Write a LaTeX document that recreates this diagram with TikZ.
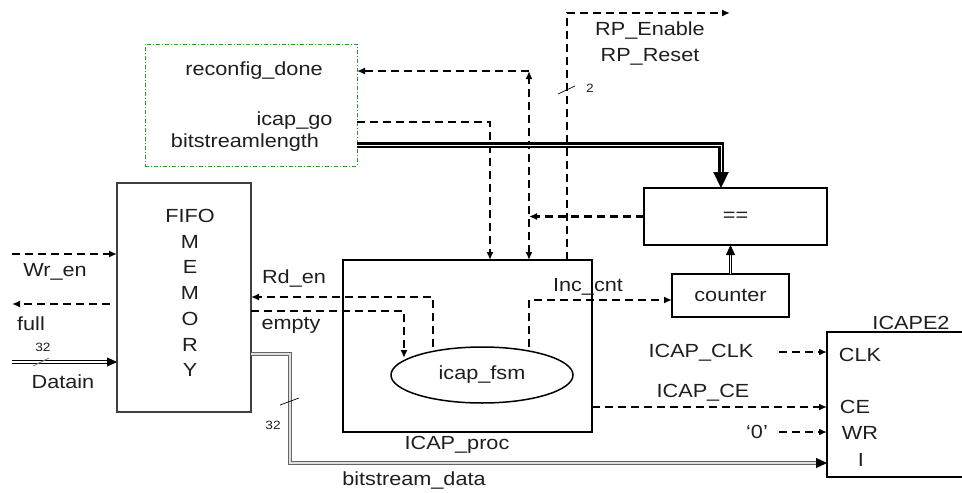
\documentclass[tikz,border=0pt]{standalone}
\usepackage{fontspec}
\setmainfont{Liberation Sans}[FakeStretch=1.14]
\usetikzlibrary{arrows.meta,shapes.geometric}
\definecolor{ink}{RGB}{30,30,30}
\definecolor{hostgreen}{RGB}{40,160,40}
\begin{document}
\begin{tikzpicture}[x=1pt,y=-1pt,
  every node/.style={font=\fontsize{19}{23}\selectfont,text=ink,inner sep=0pt,outer sep=0pt},
  small/.style={font=\fontsize{12}{14}\selectfont},
  blk/.style={draw=black,line width=2pt},
  sig/.style={draw=black,line width=2.2pt,dash pattern=on 8pt off 5pt},
  tipend/.style={-{Latex[length=8pt,width=7pt]}},
  bothends/.style={{Latex[length=8pt,width=7pt]}-{Latex[length=8pt,width=7pt]}},
  bus/.style={draw=black,line width=0.9pt,double=white,double distance=1.6pt,
    -{Triangle[length=10pt,width=9pt]}},
  bigbus/.style={draw=black,line width=2.2pt,double=white,double distance=1pt,
    -{Triangle[length=16pt,width=15pt]}},
  graybus/.style={draw=gray!80!black,line width=1.1pt,double=gray!25,double distance=1.4pt,
    -{Triangle[length=11pt,width=10pt,color=black,fill=black]}},
  slash/.style={draw=black,line width=0.7pt},
]
\useasboundingbox (0,0) rectangle (962,493);
\clip (0,0) rectangle (962,493);

% blocks
\node[draw=hostgreen,line width=1pt,dash pattern=on 4pt off 2pt on 1pt off 2pt,
  minimum width=212pt,minimum height=122pt,anchor=north west] (hostbox) at (145,44) {};
\node[draw=black!75,line width=1.1pt,minimum width=134pt,minimum height=229pt,
  anchor=north west] (fifo) at (117,183) {};
\node[blk,minimum width=249pt,minimum height=172pt,anchor=north west] (icapproc) at (343,260) {};
\node[draw=black,line width=1.5pt,ellipse,minimum width=182pt,minimum height=56pt] (fsm) at (482,375) {icap\_fsm};
\node[blk,minimum width=183pt,minimum height=57pt,anchor=north west] (eqbox) at (644,188) {==};
\node[blk,minimum width=117pt,minimum height=43pt,anchor=north west] (counter) at (672,274) {counter};
\node[blk,minimum width=150pt,minimum height=145pt,anchor=north west] (icape) at (827,332) {};

% labels
\node (lblrc) at (254,71) {reconfig\_done};
\node (lblgo) at (294.5,121) {icap\_go};
\node (lbllen) at (245,143) {bitstreamlength};
\node (lblen) at (650,31) {RP\_Enable};
\node (lblrst) at (650,57) {RP\_Reset};
\node[font=\fontsize{19}{25.7}\selectfont,align=center] (lblfifo) at (190,293) {FIFO\\M\\E\\M\\O\\R\\Y};
\node (lblwr) at (55,272) {Wr\_en};
\node (lblfull) at (31,324) {full};
\node (lbldin) at (63,382) {Datain};
\node[small] (lbl32a) at (43,347) {32};
\node (lblrd) at (294,279) {Rd\_en};
\node (lblempty) at (291,325) {empty};
\node (lblinc) at (588,287) {Inc\_cnt};
\node (lblproc) at (457,445) {ICAP\_proc};
\node[small] (lbl32b) at (273,425) {32};
\node (lblbs) at (414,480) {bitstream\_data};
\node[small] (lbl2) at (590,88) {2};
\node (lblicape) at (911,323) {ICAPE2};
\node (pclk) at (860,355) {CLK};
\node (pce) at (855,407) {CE};
\node (pwr) at (860,433) {WR};
\node (pi) at (861,460) {I};
\node (lblclk) at (701,353) {ICAP\_CLK};
\node (lblce) at (703,393) {ICAP\_CE};
\node (lblzero) at (757,432) {‘0’};

% turning points and free ends
\coordinate (rcTop) at (529,71);
\coordinate (goTurn) at (490,122);
\coordinate (lenTurn) at (721,145);
\coordinate (rpTop) at (567,13);
\coordinate (rpEnd) at (730,13);
\coordinate (incTurn) at (529,300);
\coordinate (rdTurn) at (433,297);
\coordinate (emTurn) at (404,311);
\coordinate (emEnd) at (404,358);
\coordinate (wrStart) at (12,254);
\coordinate (fullEnd) at (12,304);
\coordinate (dinStart) at (12,362);
\coordinate (bsTurnA) at (290,354);
\coordinate (bsTurnB) at (290,463);
\coordinate (clkStart) at (779,352);
\coordinate (ceLevel) at (600,407);
\coordinate (zeroStart) at (779,432);

% host interface
\draw[sig,bothends] (icapproc.north -| rcTop) -- (rcTop);
\draw[sig,tipend] (rcTop) -- (hostbox.east |- rcTop);
\draw[sig,tipend] (hostbox.east |- goTurn) -- (goTurn) -- (icapproc.north -| goTurn);
\draw[bigbus] (hostbox.east |- lenTurn) -- (lenTurn) -- (eqbox.north -| lenTurn);
\draw[sig,tipend] (icapproc.north -| rpTop) -- (rpTop) -- (rpEnd);
\draw[slash] (558,94) -- (575,86);

% comparator and counter
\draw[sig,tipend] (eqbox.west) -- (eqbox.west -| rcTop);
\draw[draw=black,line width=0.9pt,double=white,double distance=1.6pt,
  -{Triangle[length=10pt,width=9pt]}] (counter.north) -- (counter.north |- eqbox.south);
\draw[sig,tipend] (fsm.north -| incTurn) -- (incTurn) -- (counter.west |- incTurn);

% FIFO handshake
\draw[sig,tipend] (fsm.north -| rdTurn) -- (rdTurn) -- (fifo.east |- rdTurn);
\draw[sig,tipend] (fifo.east |- emTurn) -- (emTurn) -- (emEnd);
\draw[sig,tipend] (wrStart) -- (fifo.west |- wrStart);
\draw[sig,tipend,shorten <=7pt] (fifo.west |- fullEnd) -- (fullEnd);
\draw[bus] (dinStart) -- (fifo.west |- dinStart);
\draw[slash,draw=gray] (33,366) -- (49,358);

% data path to ICAPE2
\draw[graybus] (fifo.east |- bsTurnA) -- (bsTurnA) -- (bsTurnB) -- (icape.west |- bsTurnB);
\draw[slash] (280,405) -- (299,398);
\draw[sig,tipend] (clkStart) -- (icape.west |- clkStart);
\draw[sig,tipend] (icapproc.east |- ceLevel) -- (icape.west |- ceLevel);
\draw[sig,tipend] (zeroStart) -- (icape.west |- zeroStart);
\end{tikzpicture}
\end{document}
